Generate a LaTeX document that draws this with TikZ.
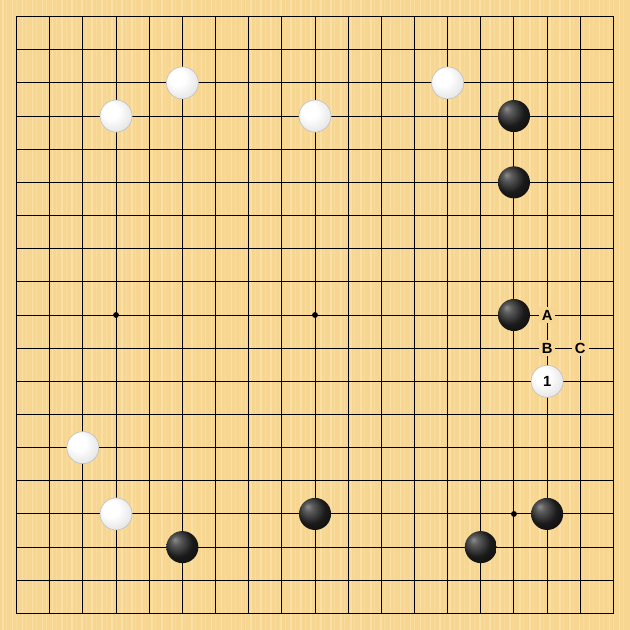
\documentclass[tikz,border=0pt]{standalone}
\usepackage{fontspec}
\setsansfont{Liberation Sans}
\definecolor{boardwood}{HTML}{F6D690}
\definecolor{woodstripe}{HTML}{FAE0A6}
\pgfdeclareradialshading{blackball}{\pgfpoint{-12bp}{12bp}}{color(0bp)=(black!45);color(7bp)=(black!64);color(22bp)=(black!90);color(50bp)=(black)}
\pgfdeclareradialshading{whiteball}{\pgfpoint{-10bp}{10bp}}{color(0bp)=(white);color(12bp)=(white);color(30bp)=(black!10);color(42bp)=(black!24);color(50bp)=(black!42)}
\tikzset{
  gridline/.style={line width=0.5pt,black},
  blackstone/.style={circle,minimum size=0.58cm,inner sep=0pt,shading=blackball},
  whitestone/.style={circle,minimum size=0.58cm,inner sep=0pt,shading=whiteball,draw=black!25,line width=0.3pt},
  pointlabel/.style={fill=boardwood,inner sep=1.5pt,font=\sffamily\bfseries\fontsize{7.6}{8}\selectfont}
}

\begin{document}
\begin{tikzpicture}[x=0.6cm,y=-0.6cm]
\useasboundingbox (-0.5,-0.5) rectangle (18.5,18.5);
\fill[boardwood] (-0.5,-0.5) rectangle (18.5,18.5);
% wood grain
\draw[woodstripe,line width=0.9pt] \foreach \s in {0,...,62} {(-0.42+\s*0.3,-0.5) -- ++(0,19)};
\draw[woodstripe!60!boardwood,line width=0.5pt] \foreach \s in {0,...,62} {(-0.3+\s*0.3,-0.5) -- ++(0,19)};
% lines
\draw[gridline] \foreach \i in {0,...,18} {(\i,0) -- (\i,18) (0,\i) -- (18,\i)};
\draw[line width=0.9pt] (0,0) rectangle (18,18);
\fill \foreach \p in {(3,9),(9,9),(15,15)} {\p circle (1.5pt)};
% stones
\foreach \c/\r [count=\n] in {5/2,3/3,9/3,13/2,2/13,3/15}
  \node[whitestone] (w\n) at (\c,\r) {};
\foreach \c/\r [count=\n] in {15/3,15/5,15/9,5/16,9/15,14/16,16/15}
  \node[blackstone] (b\n) at (\c,\r) {};
\node[whitestone,font=\sffamily\bfseries\fontsize{7.6}{8}\selectfont] (move1) at (16,11) {1};
\node[pointlabel] (labA) at (16,9) {A};
\node[pointlabel] (labB) at (16,10) {B};
\node[pointlabel] (labC) at (17,10) {C};
\end{tikzpicture}
\end{document}
